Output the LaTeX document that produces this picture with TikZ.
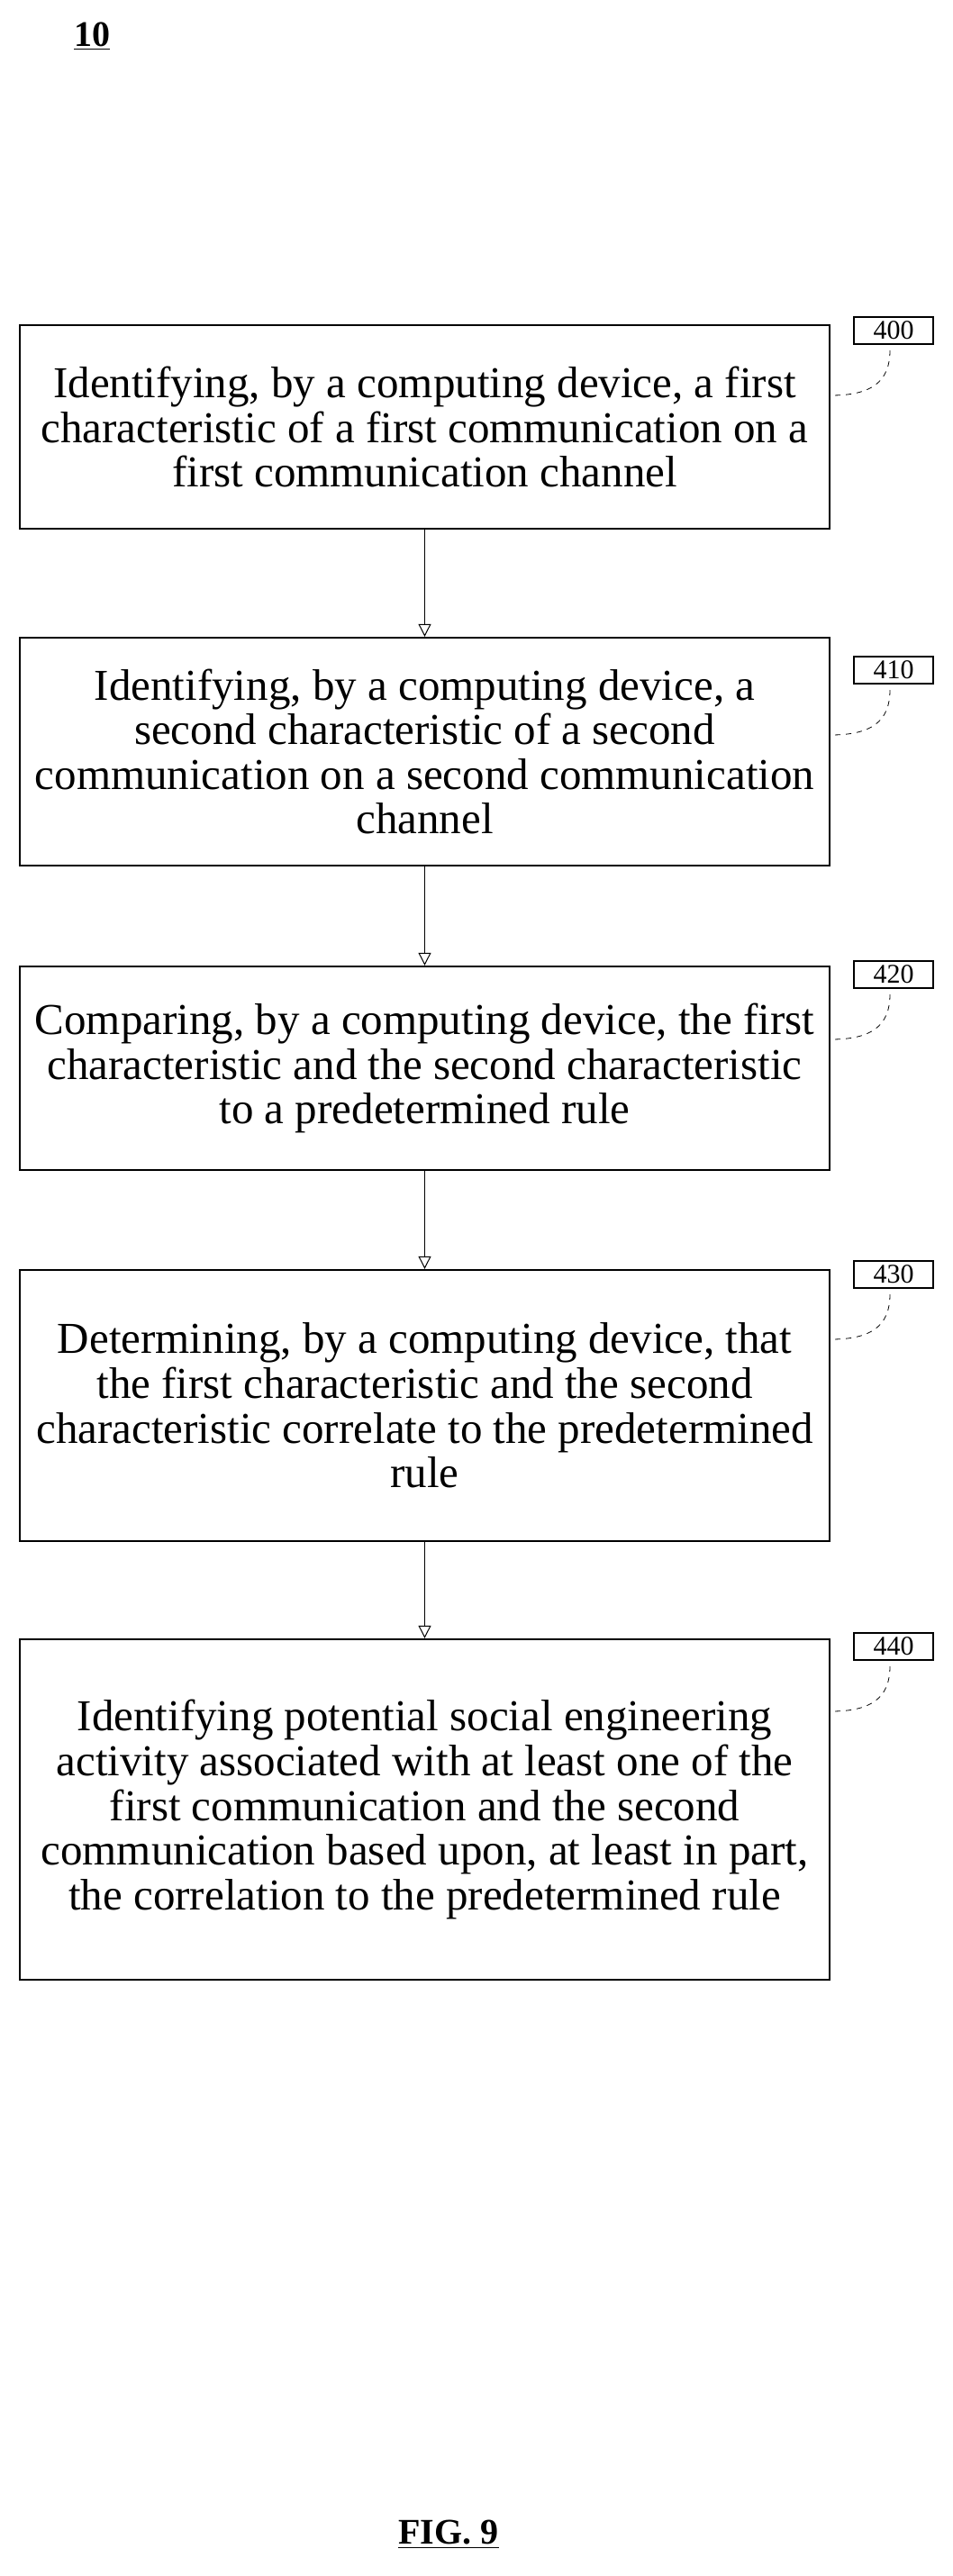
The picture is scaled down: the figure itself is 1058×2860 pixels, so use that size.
\documentclass[tikz,border=0pt]{standalone}
\usepackage{fontspec}
\setmainfont{Liberation Serif}
\usetikzlibrary{arrows.meta}
\begin{document}
\begin{tikzpicture}[x=0.5pt,y=-0.5pt,
  stepbox/.style={draw,line width=1.2pt,minimum width=449.5pt,align=center,font=\fontsize{24.5}{24.8}\selectfont,inner sep=0pt},
  refbox/.style={draw,line width=1.1pt,inner sep=0.5pt,font=\fontsize{15}{15}\selectfont,minimum width=44pt,minimum height=15pt},
  flow/.style={-{Triangle[open,length=7pt,width=7pt]},line width=0.5pt},
  lead/.style={dashed,line width=0.4pt}]
\useasboundingbox (0,0) rectangle (1058,2860);
\node[font=\fontsize{20}{22}\selectfont\bfseries] (ten) at (102,40) {\underline{10}};
\node[stepbox,minimum height=113pt] (b1) at (471.5,474) {Identifying, by a computing device, a first\\characteristic of a first communication on a\\first communication channel};
\node[stepbox,minimum height=126.5pt] (b2) at (471.5,834.5) {Identifying, by a computing device, a\\second characteristic of a second\\communication on a second communication\\channel};
\node[stepbox,minimum height=113pt] (b3) at (471.5,1186) {Comparing, by a computing device, the first\\characteristic and the second characteristic\\to a predetermined rule};
\node[stepbox,minimum height=150.5pt] (b4) at (471.5,1560.5) {Determining, by a computing device, that\\the first characteristic and the second\\characteristic correlate to the predetermined\\rule};
\node[stepbox,minimum height=189pt] (b5) at (471.5,2009) {Identifying potential social engineering\\activity associated with at least one of the\\first communication and the second\\communication based upon, at least in part,\\the correlation to the predetermined rule};
\draw[flow] (b1.south) -- (b2.north);
\draw[flow] (b2.south) -- (b3.north);
\draw[flow] (b3.south) -- (b4.north);
\draw[flow] (b4.south) -- (b5.north);
\foreach \n/\lab/\yy/\b in {r0/400/367/b1,r1/410/744/b2,r2/420/1082/b3,r3/430/1415/b4,r4/440/1828/b5}{
  \node[refbox] (\n) at (992,\yy) {\lab};
  \draw[lead] ([xshift=-2pt,yshift=-3pt]\n.south) .. controls +(0,35) and +(45,0) .. (\b.east |- 0,\yy+72);
}
\node[font=\fontsize{20}{22}\selectfont\bfseries] (fig) at (498,2814) {\underline{FIG. 9}};
\end{tikzpicture}
\end{document}
